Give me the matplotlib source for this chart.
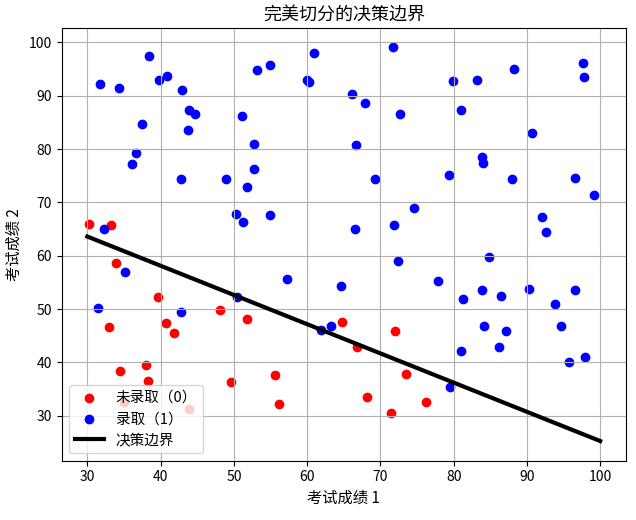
import matplotlib
matplotlib.use('Agg')
import matplotlib.pyplot as plt
import numpy as np

plt.rcParams['font.family'] = ['Noto Sans CJK SC', 'DejaVu Sans']
plt.rcParams['axes.unicode_minus'] = False

# 未录取 (0)
neg_x1 = [30.27, 33.19, 33.92, 39.71, 48.15, 51.75, 40.76, 33.0, 41.81, 64.79,
          66.75, 37.98, 34.47, 38.25, 55.6, 49.56, 56.13, 35.05, 43.83, 72.0,
          73.47, 68.22, 76.26, 71.42]
neg_x2 = [66.0, 65.8, 58.6, 52.3, 49.8, 48.05, 47.4, 46.6, 45.5, 47.55,
          42.9, 39.6, 38.3, 36.6, 37.6, 36.3, 32.2, 32.6, 31.2, 45.9,
          37.9, 33.5, 32.5, 30.5]

# 录取 (1)
pos_x1 = [38.44, 31.73, 34.38, 39.76, 40.81, 42.86, 53.1, 54.99, 60.87, 59.96,
          60.28, 66.1, 43.86, 44.73, 37.43, 51.16, 43.73, 52.8, 66.66, 36.7,
          36.11, 42.72, 48.97, 52.8, 51.8, 50.29, 51.3, 54.94, 66.5, 32.28,
          71.74, 67.95, 72.74, 79.9, 83.15, 88.3, 97.67, 97.8, 80.96, 90.64,
          69.22, 79.3, 83.84, 84.02, 87.95, 96.5, 99.1, 74.52, 71.87, 92.1,
          92.65, 35.1, 57.22, 64.65, 50.47, 31.46, 42.8, 61.83, 63.2, 72.42,
          84.89, 77.9, 81.23, 83.88, 86.53, 90.32, 96.53, 93.8, 84.2, 87.17,
          94.61, 86.16, 80.96, 95.75, 97.9, 79.5]
pos_x2 = [97.5, 92.2, 91.4, 92.9, 93.7, 91.1, 94.9, 95.7, 98.1, 92.9,
          92.5, 90.3, 87.3, 86.6, 84.7, 86.2, 83.5, 81.0, 80.8, 79.2,
          77.2, 74.4, 74.4, 76.2, 72.8, 67.8, 66.4, 67.6, 65.1, 65.0,
          99.1, 88.6, 86.6, 92.8, 93.0, 95.1, 96.1, 93.6, 87.3, 83.0,
          74.4, 75.2, 78.5, 77.4, 74.4, 74.6, 71.4, 68.9, 65.8, 67.2,
          64.4, 57.0, 55.6, 54.4, 52.2, 50.2, 49.4, 46.0, 46.75, 59.1,
          59.8, 55.3, 51.9, 53.5, 52.5, 53.7, 53.5, 51.0, 46.75, 45.8,
          46.9, 42.95, 42.2, 40.1, 41.1, 35.4]

# 决策边界
boundary_x = [30, 100]
boundary_y = [63.6, 25.25]

fig = plt.figure(figsize=(6.36, 5.2), dpi=100)
ax = fig.add_axes([0.097, 0.114, 0.887, 0.833])

h0 = ax.scatter(neg_x1, neg_x2, c='red', label='未录取（0）')
h1 = ax.scatter(pos_x1, pos_x2, c='blue', label='录取（1）')
h2, = ax.plot(boundary_x, boundary_y, color='black', linewidth=3, label='决策边界')

ax.set_title('完美切分的决策边界', fontsize=13)
ax.set_xlabel('考试成绩 1', fontsize=11)
ax.set_ylabel('考试成绩 2', fontsize=11)
ax.grid(True)
ax.legend(handles=[h0, h1, h2], loc='lower left', fontsize=10.5)

fig.savefig('out.png', dpi=100)
